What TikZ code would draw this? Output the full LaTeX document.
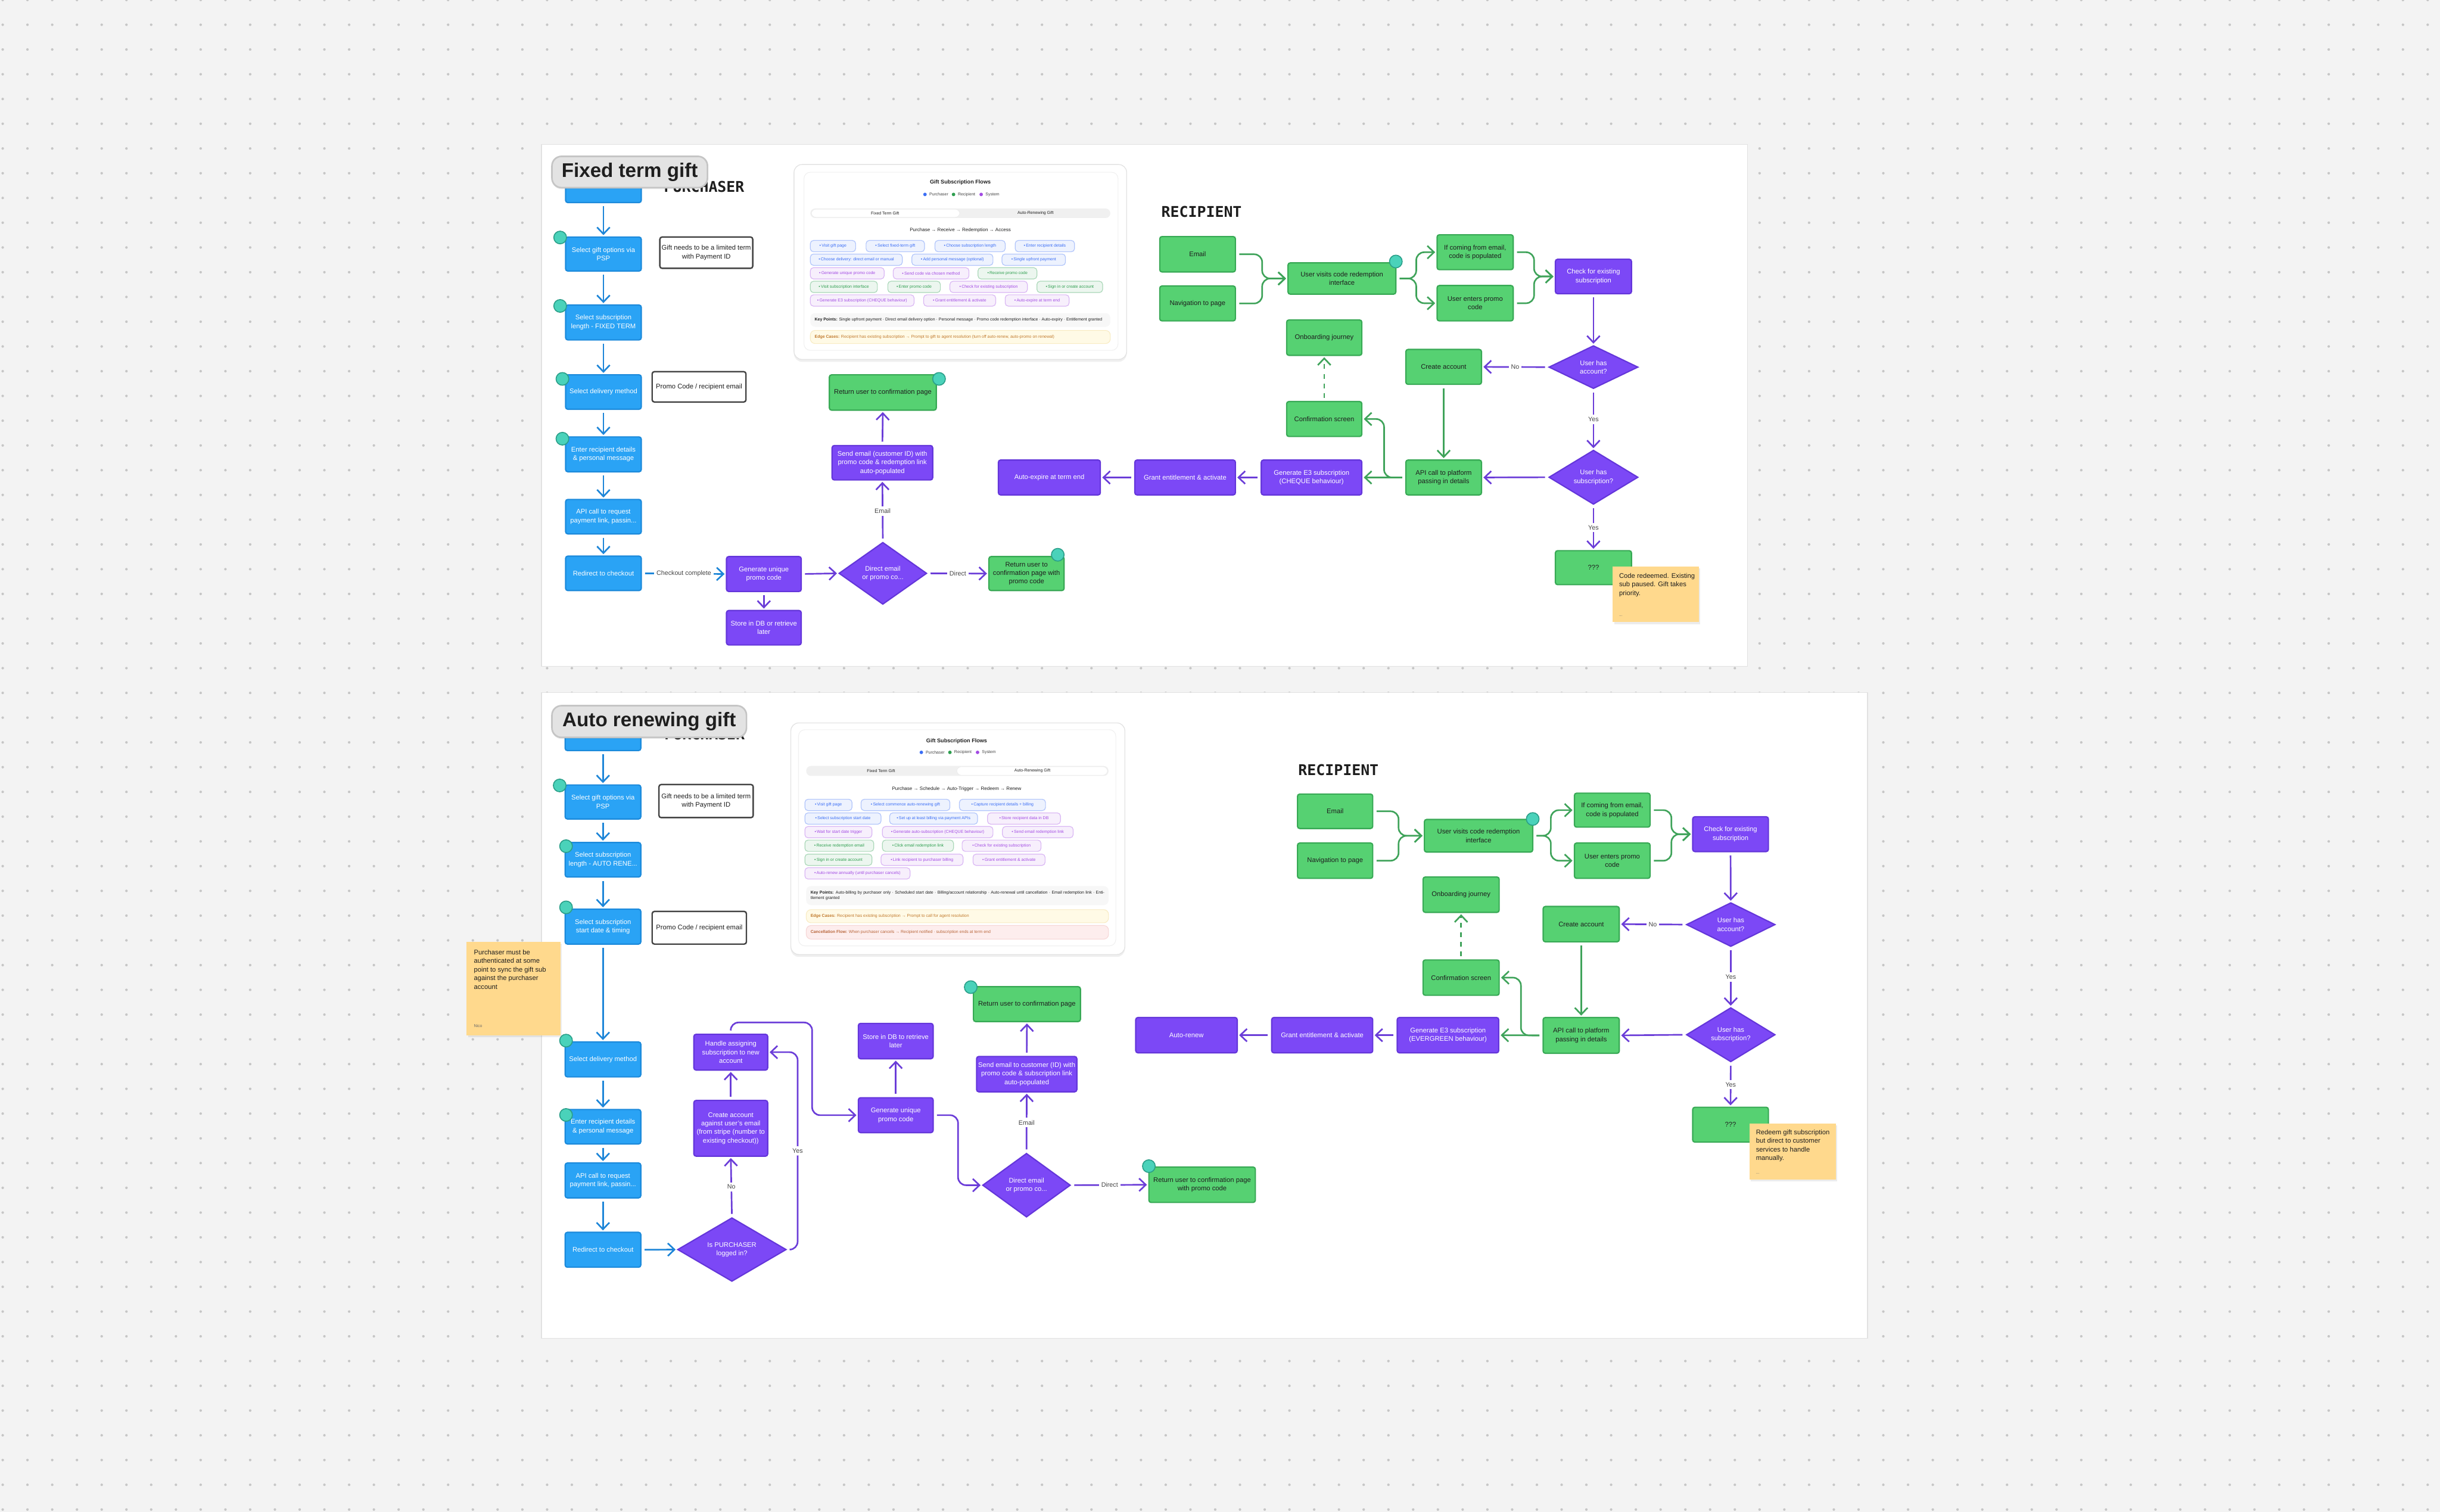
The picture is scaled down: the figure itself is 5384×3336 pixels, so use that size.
\documentclass[tikz,border=0pt]{standalone}
\usepackage{fontspec}
\setmainfont{Liberation Sans}
\newfontfamily\hdmono{DejaVu Sans Mono}
\usetikzlibrary{shapes.geometric,arrows.meta,shadows}

\definecolor{bgc}{HTML}{F3F3F3}
\definecolor{dotc}{HTML}{C6C6C6}
\definecolor{panelD}{HTML}{E2E2E2}
\definecolor{blueF}{HTML}{2AA3F5}
\definecolor{blueD}{HTML}{1C8ADB}
\definecolor{blueA}{HTML}{1E86D8}
\definecolor{purF}{HTML}{7C48F6}
\definecolor{purD}{HTML}{6436DA}
\definecolor{purA}{HTML}{6B3DD8}
\definecolor{grnF}{HTML}{56D172}
\definecolor{grnD}{HTML}{38A955}
\definecolor{grnA}{HTML}{3FA35A}
\definecolor{tealF}{HTML}{4AD2BA}
\definecolor{tealD}{HTML}{2A9F89}
\definecolor{stickF}{HTML}{FFD98D}
\definecolor{tagF}{HTML}{E3E3E3}
\definecolor{tagD}{HTML}{C5C5C5}
\definecolor{txtD}{HTML}{1E1E1E}
\definecolor{txtG}{HTML}{444444}
\definecolor{chB}{HTML}{3B6EF5}
\definecolor{chG}{HTML}{2E9E4F}
\definecolor{chP}{HTML}{A24BE3}
\definecolor{edgeF}{HTML}{FFFAE6}
\definecolor{edgeD}{HTML}{F8EBC2}
\definecolor{edgeT}{HTML}{C0782A}
\definecolor{canF}{HTML}{FDEDED}
\definecolor{canD}{HTML}{F6D6D6}
\definecolor{canT}{HTML}{B8663A}

\newcommand\bxfont{\fontsize{4.2}{5.4}\selectfont}
\newcommand\cnfont{\fontsize{4}{5}\selectfont}
\newcommand\chfont{\fontsize{2.6}{3.2}\selectfont}
\newcommand\cdtfont{\bfseries\fontsize{3.4}{4}\selectfont}
\newcommand\cdhfont{\fontsize{3}{3.6}\selectfont}
\newcommand\hdfont{\hdmono\bfseries\fontsize{9.3}{10}\selectfont}
\newcommand\tgfont{\bfseries\fontsize{12.4}{13}\selectfont}

\newcounter{chipn}
\newcommand\bx[7]{\node[#2, minimum width={(#5-#3)*0.01cm}, minimum height={(#6-#4)*0.01cm}] (#1) at ({(#3+#5)/2},{(#4+#6)/2}) {#7};}
\newcommand\dm[6]{\node[dia, minimum width={#4*0.01cm}, minimum height={#5*0.01cm}] (#1) at (#2,#3) {#6};}
\newcommand\chip[5]{\stepcounter{chipn}\node[chipbox=#4, minimum width={(#2-#1)*0.01cm}] (chip\arabic{chipn}) at ({(#1+#2)/2},#3) {\textcolor{#4}{\textbullet}\,#5};}

\tikzset{
  panel/.style={fill=white, draw=panelD, line width=0.6pt},
  box/.style={rectangle, rounded corners=1.4pt, line width=0.8pt, align=center, inner sep=1pt, font=\bxfont},
  pbox/.style={box, fill=blueF, draw=blueD, text=white},
  sbox/.style={box, fill=purF, draw=purD, text=white},
  rbox/.style={box, fill=grnF, draw=grnD, text=txtD},
  notebox/.style={box, fill=white, draw=txtG, line width=0.9pt, text=txtD},
  dia/.style={diamond, fill=purF, draw=purD, line width=0.8pt, text=white, align=center, inner sep=0pt, font=\bxfont},
  tdot/.style={circle, fill=tealF, draw=tealD, line width=0.6pt, minimum size=0.28cm, inner sep=0pt},
  tip/.style={-{Straight Barb[length=4.2pt,width=8pt]}, line width=1pt, shorten <=2pt, shorten >=0.8pt},
  arB/.style={tip, draw=blueA},
  arP/.style={tip, draw=purA},
  arG/.style={tip, draw=grnA},
  lbl/.style={fill=white, inner sep=1.5pt, font=\cnfont, text=txtG},
  hdr/.style={font=\hdfont, inner sep=0pt, text=txtD},
  tagbox/.style={rectangle, rounded corners=6pt, fill=tagF, draw=tagD, line width=1pt, font=\tgfont, text=txtD, drop shadow={opacity=0.12, shadow xshift=0pt, shadow yshift=-1pt}},
  sticky/.style={rectangle, fill=stickF, inner sep=0pt, drop shadow={opacity=0.15, shadow xshift=0.8pt, shadow yshift=-1.2pt}},
  stxt/.style={inner sep=0pt, align=left, font=\bxfont, text=txtD},
  stsmall/.style={inner sep=0pt, font=\chfont, text=txtG!80},
  cardbox/.style={fill=white, draw=gray!22, line width=0.5pt, rounded corners=5pt, drop shadow={opacity=0.12, shadow xshift=0pt, shadow yshift=-1.5pt}},
  cardin/.style={fill=white, draw=gray!12, line width=0.4pt, rounded corners=4pt},
  chipbox/.style={rectangle, rounded corners=2pt, fill=#1!9, draw=#1!40, line width=0.45pt, minimum height=0.25cm, inner sep=0.6pt, text=#1, font=\chfont},
  ctxt/.style={inner sep=0pt, font=\chfont, text=txtG},
}

\begin{document}
\begin{tikzpicture}[x=0.01cm, y=-0.01cm]
\useasboundingbox (0,0) rectangle (5384,3336);
\fill[bgc] (0,0) rectangle (5384,3336);
\foreach \j in {0,...,61}{\fill[dotc] \foreach \i in {0,...,98}{(6+54.6*\i,54.6*\j) circle[radius=0.8pt]};}

% ============ panels
\draw[panel] (1195,319) rectangle (3856,1470);
\draw[panel] (1195,1528) rectangle (4121,2953);

% ==================== TOP: FIXED TERM GIFT ====================
\node[hdr, anchor=base east] (tPurch) at (1643,424) {PURCHASER};
\bx{tP0}{pbox}{1248}{385}{1415}{447}{}
\node[tagbox, minimum width=3.43cm, minimum height=0.69cm] (tTag) at (1389.5,379.5) {Fixed term gift};

\bx{tP1}{pbox}{1248}{523}{1415}{598}{Select gift options via\\PSP}
\bx{tP2}{pbox}{1248}{673}{1415}{750}{Select subscription\\length - FIXED TERM}
\bx{tP3}{pbox}{1248}{827}{1415}{903}{Select delivery method}
\bx{tP4}{pbox}{1248}{964}{1415}{1041}{Enter recipient details\\\& personal message}
\bx{tP5}{pbox}{1248}{1102}{1415}{1178}{API call to request\\payment link, passin...}
\bx{tP6}{pbox}{1248}{1227}{1415}{1303}{Redirect to checkout}
\node[tdot] (tc1) at (1236,524) {};
\node[tdot] (tc2) at (1236,675) {};
\node[tdot] (tc3) at (1241,836) {};
\node[tdot] (tc4) at (1241,968) {};

\bx{tN1}{notebox}{1456}{523}{1661}{592}{Gift needs to be a limited term\\with Payment ID}
\bx{tN2}{notebox}{1439}{820}{1646}{887}{Promo Code / recipient email}

\draw[arB] (tP0.south) -- (tP1.north);
\draw[arB] (tP1.south) -- (tP2.north);
\draw[arB] (tP2.south) -- (tP3.north);
\draw[arB] (tP3.south) -- (tP4.north);
\draw[arB] (tP4.south) -- (tP5.north);
\draw[arB] (tP5.south) -- (tP6.north);

\bx{tGen}{sbox}{1603}{1228}{1768}{1305}{Generate unique\\promo code}
\bx{tStore}{sbox}{1603}{1347}{1768}{1423}{Store in DB or retrieve\\later}
\dm{tDia}{1948}{1265}{194}{137}{Direct email\\or promo co...}
\bx{tSend}{sbox}{1836}{983}{2058}{1059}{Send email (customer ID) with\\promo code \& redemption link\\auto-populated}
\bx{tRet}{rbox}{1830}{827}{2066}{905}{Return user to confirmation page}
\node[tdot] (tc5) at (2072,836) {};
\bx{tRet2}{rbox}{2182}{1228}{2348}{1303}{Return user to\\confirmation page with\\promo code}
\node[tdot] (tc6) at (2334,1224) {};

\draw[arB] (tP6.east) -- node[lbl]{Checkout complete} (tGen.west);
\draw[arP] (tGen.south) -- (tStore.north);
\draw[arP] (tGen.east) -- (tDia.west);
\draw[arP] (tDia.north) -- node[lbl]{Email} (tSend.south);
\draw[arP] (tSend.north) -- (tRet.south);
\draw[arP] (tDia.east) -- node[lbl]{Direct} (tRet2.west);

\bx{tExp}{sbox}{2203}{1015}{2428}{1092}{Auto-expire at term end}
\bx{tGrant}{sbox}{2504}{1015}{2726}{1092}{Grant entitlement \& activate}
\bx{tGenE3}{sbox}{2783}{1015}{3005}{1092}{Generate E3 subscription\\(CHEQUE behaviour)}
\draw[arP] (tGenE3.west) -- (tGrant.east);
\draw[arP] (tGrant.west) -- (tExp.east);

% recipient (top)
\node[hdr, anchor=base west] (tRecH) at (2562,479) {RECIPIENT};
\bx{tEmail}{rbox}{2559}{522}{2726}{600}{Email}
\bx{tNav}{rbox}{2559}{631}{2726}{708}{Navigation to page}
\bx{tVisit}{rbox}{2842}{580}{3080}{649}{User visits code redemption\\interface}
\node[tdot] (tc7) at (3080,577) {};
\bx{tIf}{rbox}{3171}{518}{3339}{595}{If coming from email,\\code is populated}
\bx{tEnter}{rbox}{3171}{630}{3339}{708}{User enters promo\\code}
\bx{tCheck}{sbox}{3432}{572}{3600}{648}{Check for existing\\subscription}
\dm{tD1}{3516}{810}{197}{95}{User has\\account?}
\bx{tCreate}{rbox}{3102}{771}{3269}{848}{Create account}
\dm{tD2}{3516}{1053}{197}{95}{User has\\subscription?}
\bx{tApi}{rbox}{3102}{1015}{3269}{1092}{API call to platform\\passing in details}
\bx{tQ}{rbox}{3432}{1215}{3600}{1290}{???}
\bx{tOnb}{rbox}{2839}{706}{3005}{784}{Onboarding journey}
\bx{tConf}{rbox}{2839}{886}{3005}{963}{Confirmation screen}

\draw[arG, rounded corners=5pt] (tEmail.east) -- (2785,561) -- (2785,614.5) -- (tVisit.west);
\draw[arG, rounded corners=5pt] (tNav.east) -- (2785,669.5) -- (2785,614.5) -- (tVisit.west);
\draw[arG, rounded corners=5pt] (tVisit.east) -- (3125,614.5) -- (3125,556.5) -- (tIf.west);
\draw[arG, rounded corners=5pt] (tVisit.east) -- (3125,614.5) -- (3125,669) -- (tEnter.west);
\draw[arG, rounded corners=5pt] (tIf.east) -- (3385,556.5) -- (3385,610) -- (tCheck.west);
\draw[arG, rounded corners=5pt] (tEnter.east) -- (3385,669) -- (3385,610) -- (tCheck.west);
\draw[arP] (tCheck.south) -- (tD1.north);
\draw[arP] (tD1.west) -- node[lbl]{No} (tCreate.east);
\draw[arP] (tD1.south) -- node[lbl]{Yes} (tD2.north);
\draw[arG] (tCreate.south) -- (tApi.north);
\draw[arP] (tD2.west) -- (tApi.east);
\draw[arP] (tD2.south) -- node[lbl]{Yes} (tQ.north);
\draw[arG] (tApi.west) -- (tGenE3.east);
\draw[arG, rounded corners=5pt] (tApi.west) -- (3054,1053.5) -- (3054,924.5) -- (tConf.east);
\draw[arG, dashed] (tConf.north) -- (tOnb.south);

\node[sticky, minimum width=1.9cm, minimum height=1.23cm, anchor=north west] (tSt) at (3558,1249) {};
\node[stxt, anchor=north west] (tStT) at (3572,1264) {Code redeemed. Existing\\sub paused. Gift takes\\priority.};
\node[stsmall, anchor=south west] (tStA) at (3572,1362) {...};

% top card
\draw[cardbox] (1752,363) rectangle (2486,793);
\draw[cardin] (1774,380) rectangle (2467,773);
\node[inner sep=0pt, font=\cdtfont, text=txtD] (tCardT) at (2119,403) {Gift Subscription Flows};
\fill[chB] (2041,429) circle[radius=1.1pt];
\node[ctxt, anchor=west] (tLg1) at (2050,429) {Purchaser};
\fill[chG] (2104,429) circle[radius=1.1pt];
\node[ctxt, anchor=west] (tLg2) at (2113,429) {Recipient};
\fill[chP] (2165,429) circle[radius=1.1pt];
\node[ctxt, anchor=west] (tLg3) at (2174,429) {System};
\fill[gray!12, rounded corners=3pt] (1788,460) rectangle (2450,481);
\draw[fill=white, draw=gray!15, line width=0.3pt, rounded corners=3pt] (1790,461.5) rectangle (2118,479.5);
\node[ctxt, text=txtD] (tTab1) at (1953,470.5) {Fixed Term Gift};
\node[ctxt, text=txtD] (tTab2) at (2285,470.5) {Auto-Renewing Gift};
\node[inner sep=0pt, font=\cdhfont, text=txtD] (tFlowH) at (2119,508) {Purchase → Receive → Redemption → Access};
\chip{1788}{1888}{543}{chB}{Visit gift page}
\chip{1911}{2040}{543}{chB}{Select fixed-term gift}
\chip{2063}{2218}{543}{chB}{Choose subscription length}
\chip{2240}{2371}{543}{chB}{Enter recipient details}
\chip{1788}{1991}{573}{chB}{Choose delivery: direct email or manual}
\chip{2012}{2191}{573}{chB}{Add personal message (optional)}
\chip{2211}{2351}{573}{chB}{Single upfront payment}
\chip{1788}{1951}{603}{chP}{Generate unique promo code}
\chip{1971}{2138}{603}{chP}{Send code via chosen method}
\chip{2158}{2288}{603}{chG}{Receive promo code}
\chip{1788}{1936}{633}{chG}{Visit subscription interface}
\chip{1959}{2075}{633}{chG}{Enter promo code}
\chip{2096}{2267}{633}{chP}{Check for existing subscription}
\chip{2288}{2433}{633}{chG}{Sign in or create account}
\chip{1788}{2017}{663}{chP}{Generate E3 subscription (CHEQUE behaviour)}
\chip{2038}{2197}{663}{chP}{Grant entitlement \& activate}
\chip{2218}{2359}{663}{chP}{Auto-expire at term end}
\fill[gray!6, rounded corners=3pt] (1788,691) rectangle (2450,721);
\node[ctxt, anchor=west, text=txtD] (tKey) at (1797,706) {\textbf{Key Points:} Single upfront payment · Direct email delivery option · Personal message · Promo code redemption interface · Auto-expiry · Entitlement granted};
\draw[fill=edgeF, draw=edgeD, line width=0.4pt, rounded corners=3pt] (1788,729) rectangle (2450,758);
\node[ctxt, anchor=west, text=edgeT] (tEdge) at (1797,743.5) {\textbf{Edge Cases:} Recipient has existing subscription → Prompt to gift to agent resolution (turn off auto-renew, auto-promo on renewal)};

% ==================== BOTTOM: AUTO RENEWING GIFT ====================
\node[hdr, anchor=base east] (bPurch) at (1644,1632) {PURCHASER};
\bx{bP0}{pbox}{1247}{1590}{1414}{1656}{}
\node[tagbox, minimum width=4.29cm, minimum height=0.70cm] (bTag) at (1432.5,1592) {Auto renewing gift};

\bx{bP1}{pbox}{1247}{1732}{1414}{1807}{Select gift options via\\PSP}
\bx{bP2}{pbox}{1247}{1859}{1414}{1935}{Select subscription\\length - AUTO RENE...}
\bx{bP3}{pbox}{1247}{2006}{1414}{2083}{Select subscription\\start date \& timing}
\bx{bP4}{pbox}{1247}{2299}{1414}{2376}{Select delivery method}
\bx{bP5}{pbox}{1247}{2448}{1414}{2524}{Enter recipient details\\\& personal message}
\bx{bP6}{pbox}{1247}{2566}{1414}{2643}{API call to request\\payment link, passin...}
\bx{bP7}{pbox}{1247}{2719}{1414}{2796}{Redirect to checkout}
\node[tdot] (bc1) at (1235,1733) {};
\node[tdot] (bc2) at (1249,1867) {};
\node[tdot] (bc3) at (1249,2002) {};
\node[tdot] (bc4) at (1249,2296) {};
\node[tdot] (bc5) at (1249,2460) {};

\bx{bN1}{notebox}{1454}{1731}{1662}{1804}{Gift needs to be a limited term\\with Payment ID}
\bx{bN2}{notebox}{1439}{2011}{1647}{2083}{Promo Code / recipient email}

\draw[arB] (bP0.south) -- (bP1.north);
\draw[arB] (bP1.south) -- (bP2.north);
\draw[arB] (bP2.south) -- (bP3.north);
\draw[arB] (bP3.south) -- (bP4.north);
\draw[arB] (bP4.south) -- (bP5.north);
\draw[arB] (bP5.south) -- (bP6.north);
\draw[arB] (bP6.south) -- (bP7.north);

\node[sticky, minimum width=2.07cm, minimum height=2.07cm, anchor=north west] (bSt) at (1029,2077) {};
\node[stxt, anchor=north west] (bStT) at (1045,2095) {Purchaser must be\\authenticated at some\\point to sync the gift sub\\against the purchaser\\account};
\node[stsmall, anchor=south west] (bStA) at (1045,2268) {Nico};

\dm{bDiaP}{1615}{2757}{240}{122}{Is PURCHASER\\logged in?}
\bx{bCreate}{sbox}{1531}{2428}{1694}{2551}{Create account\\against user's email\\(from stripe (number to\\existing checkout))}
\bx{bHandle}{sbox}{1531}{2282}{1694}{2361}{Handle assigning\\subscription to new\\account}
\bx{bGen}{sbox}{1894}{2422}{2059}{2499}{Generate unique\\promo code}
\bx{bStore}{sbox}{1894}{2258}{2059}{2336}{Store in DB to retrieve\\later}
\dm{bDia}{2265}{2615}{194}{141}{Direct email\\or promo co...}
\bx{bSend}{sbox}{2155}{2331}{2376}{2409}{Send email to customer (ID) with\\promo code \& subscription link\\auto-populated}
\bx{bRet}{rbox}{2148}{2177}{2384}{2254}{Return user to confirmation page}
\node[tdot] (bc6) at (2142,2178) {};
\bx{bRet2}{rbox}{2535}{2575}{2770}{2653}{Return user to confirmation page\\with promo code}
\node[tdot] (bc7) at (2535,2573) {};

\draw[arB] (bP7.east) -- (bDiaP.west);
\draw[arP] (bDiaP.north) -- node[lbl]{No} (bCreate.south);
\draw[arP] (bCreate.north) -- (bHandle.south);
\draw[arP, rounded corners=5pt] (bDiaP.east) -- (1760,2757) -- node[lbl]{Yes} (1760,2321.5) -- (bHandle.east);
\draw[arP, rounded corners=5pt] (bHandle.north) -- (1612,2256) -- (1792,2256) -- (1792,2460.5) -- (bGen.west);
\draw[arP] (bGen.north) -- (bStore.south);
\draw[arP, rounded corners=5pt] (bGen.east) -- (2114,2460.5) -- (2114,2615) -- (bDia.west);
\draw[arP] (bDia.north) -- node[lbl]{Email} (bSend.south);
\draw[arP] (bSend.north) -- (bRet.south);
\draw[arP] (bDia.east) -- node[lbl]{Direct} (bRet2.west);

\bx{bRenew}{sbox}{2506}{2245}{2730}{2323}{Auto-renew}
\bx{bGrant}{sbox}{2806}{2245}{3029}{2323}{Grant entitlement \& activate}
\bx{bGenE3}{sbox}{3083}{2245}{3307}{2323}{Generate E3 subscription\\(EVERGREEN behaviour)}
\draw[arP] (bGenE3.west) -- (bGrant.east);
\draw[arP] (bGrant.west) -- (bRenew.east);

% recipient (bottom)
\node[hdr, anchor=base west] (bRecH) at (2864,1711) {RECIPIENT};
\bx{bEmail}{rbox}{2863}{1752}{3029}{1828}{Email}
\bx{bNav}{rbox}{2863}{1860}{3029}{1938}{Navigation to page}
\bx{bVisit}{rbox}{3143}{1808}{3382}{1880}{User visits code redemption\\interface}
\node[tdot] (bc8) at (3382,1807) {};
\bx{bIf}{rbox}{3474}{1750}{3641}{1825}{If coming from email,\\code is populated}
\bx{bEnter}{rbox}{3474}{1860}{3641}{1938}{User enters promo\\code}
\bx{bCheck}{sbox}{3735}{1802}{3902}{1879}{Check for existing\\subscription}
\dm{bD1}{3819}{2040}{196}{97}{User has\\account?}
\bx{bCreateR}{rbox}{3405}{2000}{3573}{2078}{Create account}
\dm{bD2}{3819}{2283}{196}{95}{User has\\subscription?}
\bx{bApi}{rbox}{3405}{2245}{3573}{2324}{API call to platform\\passing in details}
\bx{bQ}{rbox}{3735}{2443}{3902}{2520}{???}
\bx{bOnb}{rbox}{3140}{1935}{3308}{2013}{Onboarding journey}
\bx{bConf}{rbox}{3140}{2118}{3308}{2196}{Confirmation screen}

\draw[arG, rounded corners=5pt] (bEmail.east) -- (3086,1790) -- (3086,1844) -- (bVisit.west);
\draw[arG, rounded corners=5pt] (bNav.east) -- (3086,1899) -- (3086,1844) -- (bVisit.west);
\draw[arG, rounded corners=5pt] (bVisit.east) -- (3422,1844) -- (3422,1787.5) -- (bIf.west);
\draw[arG, rounded corners=5pt] (bVisit.east) -- (3422,1844) -- (3422,1899) -- (bEnter.west);
\draw[arG, rounded corners=5pt] (bIf.east) -- (3688,1787.5) -- (3688,1840.5) -- (bCheck.west);
\draw[arG, rounded corners=5pt] (bEnter.east) -- (3688,1899) -- (3688,1840.5) -- (bCheck.west);
\draw[arP] (bCheck.south) -- (bD1.north);
\draw[arP] (bD1.west) -- node[lbl]{No} (bCreateR.east);
\draw[arP] (bD1.south) -- node[lbl]{Yes} (bD2.north);
\draw[arG] (bCreateR.south) -- (bApi.north);
\draw[arP] (bD2.west) -- (bApi.east);
\draw[arP] (bD2.south) -- node[lbl]{Yes} (bQ.north);
\draw[arG] (bApi.west) -- (bGenE3.east);
\draw[arG, rounded corners=5pt] (bApi.west) -- (3356,2284.5) -- (3356,2157) -- (bConf.east);
\draw[arG, dashed] (bConf.north) -- (bOnb.south);

\node[sticky, minimum width=1.9cm, minimum height=1.24cm, anchor=north west] (bSt2) at (3860,2478) {};
\node[stxt, anchor=north west] (bSt2T) at (3874,2492) {Redeem gift subscription\\but direct to customer\\services to handle\\manually.};
\node[stsmall, anchor=south west] (bSt2A) at (3874,2592) {...};

% bottom card
\draw[cardbox] (1745,1595) rectangle (2482,2106);
\draw[cardin] (1762,1610) rectangle (2462,2087);
\node[inner sep=0pt, font=\cdtfont, text=txtD] (bCardT) at (2111,1636) {Gift Subscription Flows};
\fill[chB] (2033,1660) circle[radius=1.1pt];
\node[ctxt, anchor=west] (bLg1) at (2042,1660) {Purchaser};
\fill[chG] (2096,1660) circle[radius=1.1pt];
\node[ctxt, anchor=west] (bLg2) at (2105,1660) {Recipient};
\fill[chP] (2157,1660) circle[radius=1.1pt];
\node[ctxt, anchor=west] (bLg3) at (2166,1660) {System};
\fill[gray!12, rounded corners=3pt] (1779,1690) rectangle (2446,1712);
\draw[fill=white, draw=gray!15, line width=0.3pt, rounded corners=3pt] (2111,1691.5) rectangle (2444,1710.5);
\node[ctxt, text=txtD] (bTab1) at (1944,1701) {Fixed Term Gift};
\node[ctxt, text=txtD] (bTab2) at (2278,1701) {Auto-Renewing Gift};
\node[inner sep=0pt, font=\cdhfont, text=txtD] (bFlowH) at (2111,1741) {Purchase → Schedule → Auto-Trigger → Redeem → Renew};
\chip{1776}{1880}{1776}{chB}{Visit gift page}
\chip{1900}{2096}{1776}{chB}{Select commence auto-renewing gift}
\chip{2117}{2307}{1776}{chB}{Capture recipient details + billing}
\chip{1776}{1944}{1806}{chB}{Select subscription start date}
\chip{1963}{2157}{1806}{chB}{Set up at least billing via payment APIs}
\chip{2179}{2340}{1806}{chP}{Store recipient data in DB}
\chip{1776}{1924}{1836}{chP}{Wait for start date trigger}
\chip{1947}{2191}{1836}{chP}{Generate auto-subscription (CHEQUE behaviour)}
\chip{2212}{2368}{1836}{chP}{Send email redemption link}
\chip{1776}{1928}{1866}{chG}{Receive redemption email}
\chip{1947}{2104}{1866}{chG}{Click email redemption link}
\chip{2123}{2297}{1866}{chP}{Check for existing subscription}
\chip{1776}{1924}{1897}{chG}{Sign in or create account}
\chip{1944}{2125}{1897}{chP}{Link recipient to purchaser billing}
\chip{2147}{2306}{1897}{chP}{Grant entitlement \& activate}
\chip{1776}{2008}{1927}{chP}{Auto-renew annually (until purchaser cancels)}
\fill[gray!6, rounded corners=3pt] (1779,1955) rectangle (2446,1997);
\node[ctxt, anchor=west, text=txtD, text width=6.5cm, align=left] (bKey) at (1788,1976) {\textbf{Key Points:} Auto-billing by purchaser only · Scheduled start date · Billing/account relationship · Auto-renewal until cancellation · Email redemption link · Entitlement granted};
\draw[fill=edgeF, draw=edgeD, line width=0.4pt, rounded corners=3pt] (1779,2007) rectangle (2446,2036);
\node[ctxt, anchor=west, text=edgeT] (bEdge) at (1788,2021.5) {\textbf{Edge Cases:} Recipient has existing subscription → Prompt to call for agent resolution};
\draw[fill=canF, draw=canD, line width=0.4pt, rounded corners=3pt] (1779,2042) rectangle (2446,2072);
\node[ctxt, anchor=west, text=canT] (bCan) at (1788,2057) {\textbf{Cancellation Flow:} When purchaser cancels → Recipient notified · subscription ends at term end};

\end{tikzpicture}
\end{document}
